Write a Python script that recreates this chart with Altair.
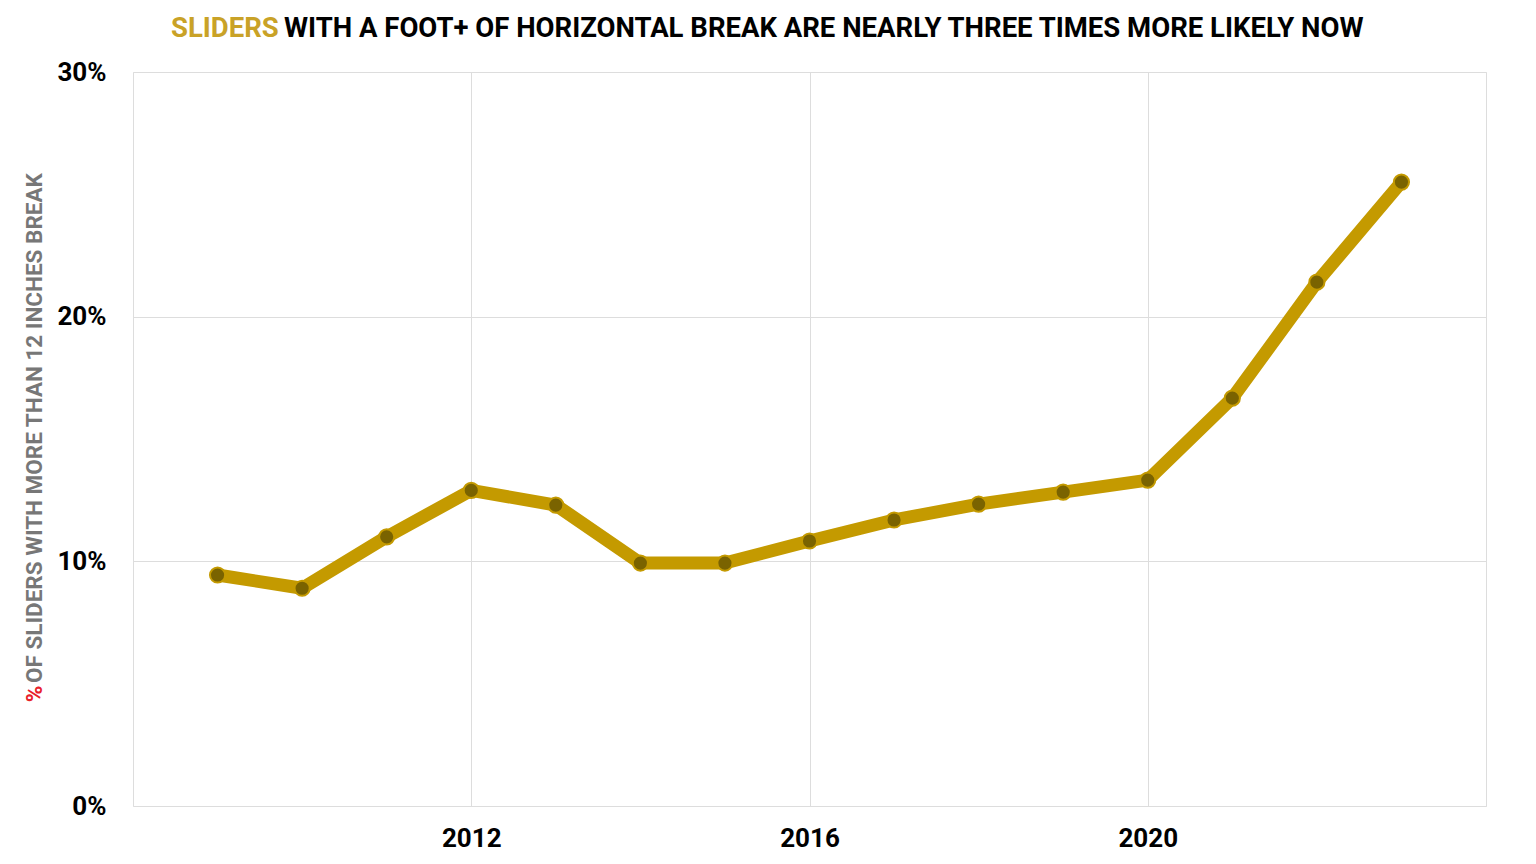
import altair as alt
import pandas as pd

years = [2009, 2010, 2011, 2012, 2013, 2014, 2015, 2016, 2017, 2018, 2019, 2020, 2021, 2022, 2023]
pct = [9.44, 8.9, 11.0, 12.9, 12.3, 9.93, 9.93, 10.83, 11.69, 12.34, 12.83, 13.32, 16.67, 21.41, 25.5]

df = pd.DataFrame({"year": years, "pct": pct})

W, H = 1353, 734
GOLD = "#C49A00"
DARK = "#7A6300"
FONT = "Roboto"

x = alt.X("year:Q", scale=alt.Scale(domain=[2008, 2024], nice=False),
          axis=alt.Axis(values=[2012, 2016, 2020], format="d", title=None,
                        ticks=False, domain=False, labelPadding=19,
                        labelFontSize=26, labelFontWeight="bold", labelColor="#000",
                        labelFont=FONT, gridColor="#dddddd", gridWidth=1))
y = alt.Y("pct:Q", scale=alt.Scale(domain=[0, 30], nice=False),
          axis=alt.Axis(values=[0, 10, 20, 30], labelExpr="datum.value + '%'", title=None,
                        ticks=False, domain=False, labelPadding=27,
                        labelFontSize=26, labelFontWeight="bold", labelColor="#000",
                        labelFont=FONT, gridColor="#dddddd", gridWidth=1))

base = alt.Chart(df)
line = base.mark_line(color=GOLD, strokeWidth=13, strokeCap="round", strokeJoin="round").encode(x=x, y=y)
pts = base.mark_point(filled=True, fill=DARK, stroke=GOLD, strokeWidth=2, size=230, opacity=1).encode(x=x, y=y)

def txt(text, xv, yv, color, size, angle=0, align="left", baseline="middle", weight="bold"):
    return alt.Chart(pd.DataFrame({"t": [text]})).mark_text(
        font=FONT, fontSize=size, fontWeight=weight, color=color, angle=angle,
        align=align, baseline=baseline, clip=False
    ).encode(text="t:N", x=alt.value(xv), y=alt.value(yv))

t1 = txt("SLIDERS", 38, -43, "#C9A227", 27.5)
t2 = txt("WITH A FOOT+ OF HORIZONTAL BREAK ARE NEARLY THREE TIMES MORE LIKELY NOW", 151, -43, "#000000", 27.5)
yt1 = txt("%", -98, 622, "#e8202a", 22.5, angle=270, align="center")
yt2 = txt("OF SLIDERS WITH MORE THAN 12 INCHES BREAK", -98, 611, "#777777", 22.5, angle=270, align="left")

chart = alt.layer(line, pts, t1, t2, yt1, yt2).properties(
    width=W, height=H,
    autosize=alt.AutoSizeParams(type="none"),
    padding={"left": 125, "top": 64, "right": 40, "bottom": 50},
).configure_view(stroke="#dddddd", strokeWidth=1).configure(background="white")

chart.save("out.html", embed_options={"renderer": "svg", "actions": False})
